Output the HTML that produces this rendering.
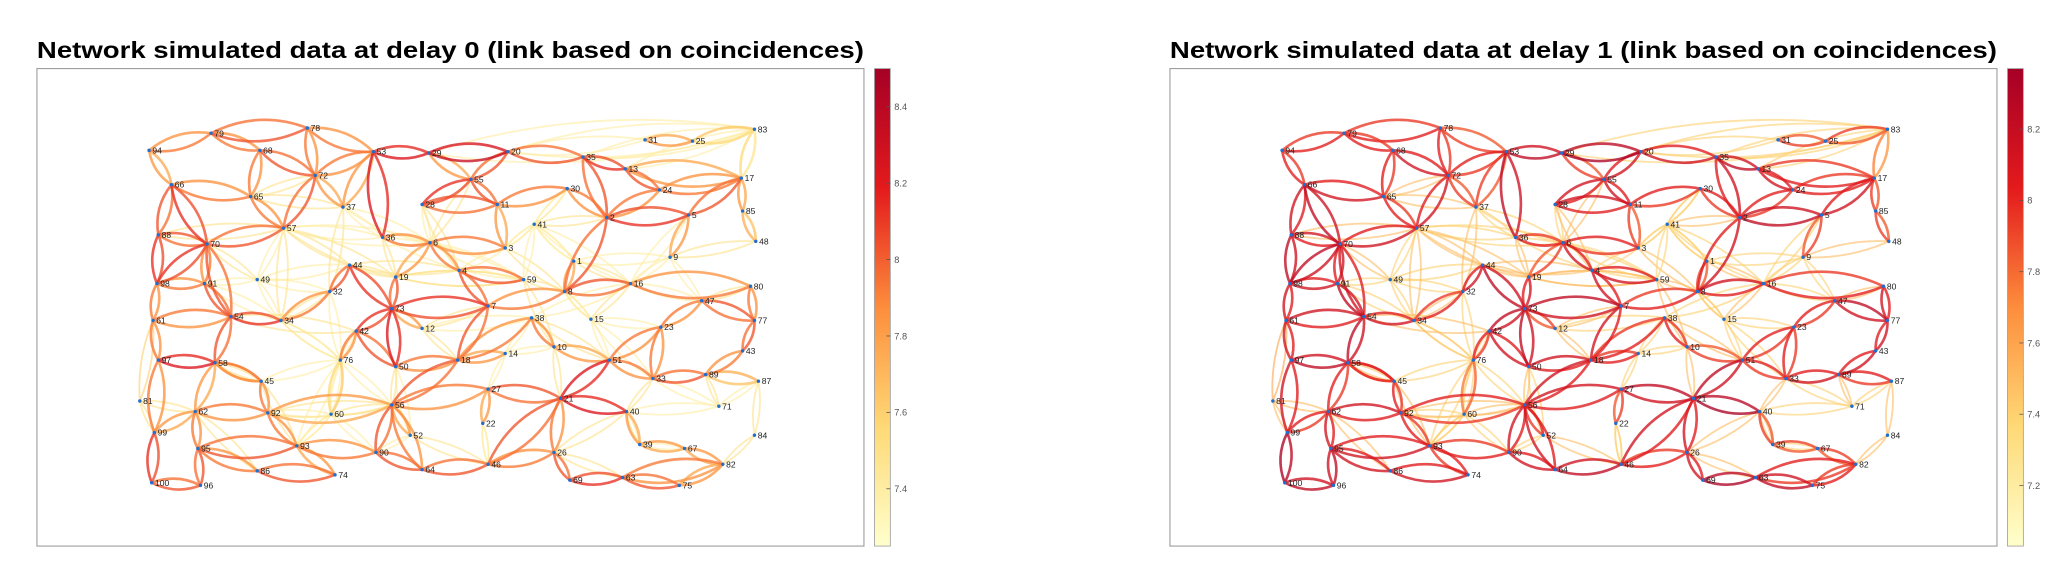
<!DOCTYPE html>
<html><head><meta charset="utf-8"><style>
html,body{margin:0;padding:0;background:#fff;}
svg{display:block;font-family:"Liberation Sans",sans-serif;}
</style></head><body>
<svg id="chart" width="2068" height="580" viewBox="0 0 2068 580">
<defs>
<linearGradient id="cmap" x1="0" y1="1" x2="0" y2="0">
<stop offset="0" stop-color="#ffffcc"/><stop offset="0.25" stop-color="#fed976"/>
<stop offset="0.5" stop-color="#fd8d3c"/><stop offset="0.75" stop-color="#e31a1c"/>
<stop offset="1" stop-color="#a50026"/></linearGradient>
</defs>
<g id="root" transform="scale(1.319)"></g>
</svg>
<script>
// node ids and positions (left-panel plot coordinates)
const nodeIds=[78,79,94,68,53,29,20,35,31,25,83,13,72,17,66,65,55,30,24,28,11,37,2,5,85,41,57,48,88,70,36,6,3,1,9,44,49,19,4,59,16,80,98,91,32,8,47,73,7,77,54,61,34,38,15,23,42,12,43,10,14,97,58,76,50,18,51,33,89,87,45,27,21,81,62,92,60,56,40,71,22,52,84,99,95,93,90,39,67,46,26,82,86,74,64,100,96,69,63,75];
const nodeX=[233,160,113,197,283,325,385,442,489,525,572,474,239,562,130,190,357,430,500,320,377,260,460,522,563,405,215,573,120,157,290,326,383,435,508,265,195,300,348,397,478,569,119,155,250,428,532,297,370,572,175,116,213,403,448,501,270,320,563,420,383,120,163,258,300,347,462,495,535,575,198,370,425,106,148,203,251,297,475,545,366,311,572,117,150,225,285,485,519,370,420,548,195,254,320,115,152,432,472,515];
const nodeY=[97,101,114,114,115,116,115,119,106,107,98,128,133,135,140,149,136,143,144,155,155,157,165,163,160,170,173,183,178,185,180,184,188,198,195,201,212,210,205,212,215,217,215,215,221,221,228,234,232,243,240,243,243,241,242,248,251,249,266,263,268,273,275,273,278,273,273,287,284,289,289,295,302,304,312,313,314,307,312,308,321,330,330,328,340,338,343,337,340,352,343,352,357,360,356,366,368,364,362,368];
// edges: source, target, weight at delay 0, weight at delay 1
const edgeSrc=[94,79,78,53,29,20,35,13,24,17,85,94,66,88,98,61,97,58,45,92,62,99,100,96,95,86,74,93,90,64,46,26,69,63,75,82,67,79,68,68,66,66,70,57,72,53,53,53,70,70,98,91,54,54,54,34,32,44,73,73,42,42,73,19,36,6,4,4,7,7,7,12,18,18,18,18,38,10,51,21,27,56,56,56,21,21,21,40,33,89,43,77,47,23,16,8,2,2,2,5,16,80,1,55,55,55,11,11,30,29,58,62,97,95,92,22,33,9,24,13,3,70,91,65,78,23,87,82,52,60,45,83,83,31];
const edgeDst=[79,78,53,29,20,35,13,24,17,85,48,66,88,98,61,97,58,45,92,62,99,100,96,95,86,74,93,90,64,46,26,69,63,75,82,67,39,68,72,65,65,70,57,72,37,37,36,72,88,98,91,54,34,58,61,32,44,73,19,42,76,50,50,6,6,4,59,7,73,8,18,73,50,14,56,38,10,51,21,27,56,92,90,64,40,26,46,39,89,43,77,47,23,51,8,2,30,35,5,17,80,77,8,28,11,20,28,3,11,55,62,95,99,93,93,27,51,5,2,17,6,54,70,57,72,33,89,63,56,76,58,17,25,25];
const w0=[7.9,8.0,7.9,8.2,8.3,8.0,8.1,8.0,7.9,7.8,7.7,7.8,8.0,8.1,7.9,7.9,8.2,7.8,7.9,7.9,7.8,8.1,8.0,8.0,7.9,8.0,7.8,7.9,8.0,8.0,7.9,8.0,8.1,8.0,7.8,7.8,7.8,7.9,8.0,7.9,7.9,8.1,8.0,8.0,7.8,7.8,8.2,7.9,8.0,8.1,7.9,8.0,8.1,8.0,7.9,7.9,8.0,8.1,8.0,8.1,7.9,8.0,8.2,7.8,7.9,7.9,8.0,8.0,8.1,7.9,8.0,7.8,7.9,7.8,8.0,7.9,7.9,7.8,8.2,8.0,7.9,7.8,8.0,7.9,8.2,7.9,8.0,7.8,8.0,7.9,8.0,8.0,7.9,7.9,8.0,8.0,7.9,8.0,8.1,8.0,7.9,7.9,7.8,8.1,8.0,8.0,8.0,7.8,7.9,7.8,7.8,7.9,7.9,8.0,7.9,7.8,7.9,7.8,7.9,7.8,7.9,8.0,7.9,7.9,7.9,7.9,7.7,7.9,7.8,7.6,7.9,7.5,7.6,7.8];
const w1=[8.0,8.0,7.9,8.2,8.3,8.1,8.2,8.1,8.0,7.9,7.9,8.0,8.1,8.2,8.1,8.1,8.2,8.0,8.0,8.1,8.0,8.3,8.2,8.2,8.1,8.1,8.0,8.0,8.1,8.2,8.0,8.1,8.3,8.2,8.0,7.9,7.9,8.0,8.1,8.0,8.1,8.2,8.1,8.1,7.9,7.9,8.2,8.0,8.1,8.2,8.1,8.2,8.1,8.2,8.1,8.0,8.1,8.2,8.1,8.2,8.0,8.1,8.2,7.9,8.0,8.1,8.1,8.1,8.2,8.0,8.1,7.9,8.1,8.0,8.1,8.0,8.0,7.9,8.2,8.2,8.1,8.0,8.1,8.1,8.3,8.1,8.1,7.9,8.1,8.1,8.1,8.2,8.0,8.0,8.1,8.1,8.0,8.1,8.2,8.1,8.0,8.1,7.9,8.1,8.1,8.1,8.1,7.9,8.0,7.9,8.0,8.1,8.1,8.1,8.0,7.9,8.0,7.9,8.0,8.0,8.0,8.1,8.1,8.0,8.0,8.0,8.0,8.0,8.0,7.8,8.0,7.7,7.9,7.9];
// weak long-range links (faint background)
const weakSrc=[49,49,49,57,57,57,36,41,41,44,32,19,59,1,9,48,80,60,60,52,52,12,14,15,15,84,84,71,83,83,83,83,31,37,37,81,81,81,22,10,3,76,45,34,65,28,3,1,49,60,52,14,15,41,49,49,57,57,36,19,12,12,76,76,50,14,10,15,38,38,8,1,16,9,41,41,28,37,65,88,91,34,34,45,60,60,92,22,40,71,71,67,39,26,87,33,47,5,2,30,55,6,4,44,42,54,58,62];
const weakDst=[70,44,32,44,36,34,19,3,1,19,76,59,8,16,16,9,47,92,56,50,46,7,38,8,51,87,82,40,13,35,29,20,20,32,6,61,62,99,46,59,41,60,76,76,37,6,8,9,91,93,90,10,23,16,57,34,19,6,59,59,38,18,56,93,56,27,21,33,51,16,15,41,15,47,30,59,4,36,72,57,34,32,76,93,90,93,56,46,26,33,89,39,40,63,71,40,16,16,41,41,6,59,3,4,76,42,45,86];
const weakW=[7.5,7.4,7.4,7.5,7.4,7.5,7.5,7.4,7.4,7.5,7.4,7.5,7.5,7.5,7.4,7.5,7.5,7.4,7.5,7.4,7.5,7.5,7.4,7.5,7.4,7.5,7.5,7.4,7.4,7.4,7.4,7.4,7.4,7.5,7.4,7.6,7.5,7.5,7.4,7.5,7.4,7.4,7.4,7.5,7.5,7.4,7.5,7.4,7.4,7.4,7.4,7.4,7.4,7.4,7.4,7.4,7.5,7.4,7.4,7.5,7.4,7.5,7.4,7.4,7.5,7.4,7.5,7.4,7.5,7.4,7.4,7.4,7.5,7.4,7.4,7.4,7.5,7.4,7.5,7.5,7.4,7.5,7.4,7.5,7.4,7.4,7.5,7.4,7.5,7.4,7.5,7.4,7.5,7.5,7.4,7.5,7.4,7.4,7.5,7.4,7.5,7.4,7.4,7.5,7.5,7.5,7.5,7.5];
// colorbar ticks
const cbTicks0=[8.4,8.2,8,7.8,7.6,7.4];
const cbTicks1=[8.2,8,7.8,7.6,7.4,7.2];

const NS="http://www.w3.org/2000/svg";
const root=document.getElementById('root');
function mk(tag,attrs,parent){const e=document.createElementNS(NS,tag);for(const k in attrs)e.setAttribute(k,attrs[k]);(parent||root).appendChild(e);return e;}
const stops=[[0,[255,255,204]],[0.25,[254,217,118]],[0.5,[253,141,60]],[0.75,[227,26,28]],[1,[165,0,38]]];
function cmap(t){t=Math.max(0,Math.min(1,t));for(let i=1;i<stops.length;i++){if(t<=stops[i][0]){const a=stops[i-1],b=stops[i];const f=(t-a[0])/(b[0]-a[0]);const c=a[1].map((v,j)=>Math.round(v+(b[1][j]-v)*f));return `rgb(${c[0]},${c[1]},${c[2]})`;}}return 'rgb(165,0,38)';}

const panels=[
 {dx:0,title:"Network simulated data at delay 0 (link based on coincidences)",w:w0,vmin:7.25,vmax:8.5,ticks:cbTicks0,cbx:663,name:'delay-0'},
 {dx:859,title:"Network simulated data at delay 1 (link based on coincidences)",w:w1,vmin:7.03,vmax:8.37,ticks:cbTicks1,cbx:1522,name:'delay-1'}
];
const boxTop=52,boxBot=414;
function nodePos(id,dx){const i=nodeIds.indexOf(id);return [nodeX[i]+dx,nodeY[i]];}
function arc(g,a,b,dx,col,sw,op,bend){
  const p=nodePos(a,dx),q=nodePos(b,dx);
  const mx=(p[0]+q[0])/2,my=(p[1]+q[1])/2,vx=q[0]-p[0],vy=q[1]-p[1];
  const cx=mx-vy*bend,cy=my+vx*bend;
  return mk('path',{d:`M${p[0]},${p[1]} Q${cx},${cy} ${q[0]},${q[1]}`,fill:'none',stroke:col,'stroke-width':sw,'stroke-opacity':op},g);
}
panels.forEach(P=>{
  const g=mk('g',{});
  
  
  const t=mk('text',{x:28+P.dx,y:44,'font-size':17.5,'font-weight':'bold',fill:'#000',textLength:627,lengthAdjust:'spacingAndGlyphs'},g);
  t.textContent=P.title;
  
  
  const box=mk('rect',{x:28+P.dx,y:boxTop,width:627,height:boxBot-boxTop,fill:'#fff',stroke:'#999','stroke-width':0.8},g);
  
  
  const tn=v=>(v-P.vmin)/(P.vmax-P.vmin);
  const eg=mk('g',{},g);
  
  
  for(let i=0;i<weakSrc.length;i++){
    [0.12,-0.12].forEach(bd=>{const e=arc(eg,weakSrc[i],weakDst[i],P.dx,cmap(tn(weakW[i])),1.4,0.6,bd);
      
      });
  }
  const order=[...edgeSrc.keys()].sort((a,b)=>P.w[a]-P.w[b]);
  order.forEach(i=>{
    [0.22,-0.22].forEach((bd,k)=>{
      const w=P.w[i]+(k?-0.05:0.03);
      const e=arc(eg,edgeSrc[i],edgeDst[i],P.dx,cmap(tn(w)),2,0.78,bd);
      
      
    });
  });
  const ng=mk('g',{},g);
  
  
  nodeIds.forEach(id=>{
    const p=nodePos(id,P.dx);
    const c=mk('circle',{cx:p[0],cy:p[1],r:1.3,fill:'#1f6fd0'},ng);
    
    
    const l=mk('text',{x:p[0]+2.5,y:p[1]+2.3,'font-size':6.5,fill:'#222'},ng);
    l.textContent=id;
    
    
  });
  const cb=mk('rect',{x:P.cbx,y:boxTop,width:12,height:boxBot-boxTop,fill:'url(#cmap)',stroke:'#999','stroke-width':0.6},g);
  
  
  P.ticks.forEach(v=>{
    const y=boxBot-(v-P.vmin)/(P.vmax-P.vmin)*(boxBot-boxTop);
    mk('line',{x1:P.cbx+9,x2:P.cbx+12,y1:y,y2:y,stroke:'#555','stroke-width':0.6},g);
    const tl=mk('text',{x:P.cbx+15,y:y+2.5,'font-size':7,fill:'#555'},g);
    tl.textContent=v;
    
    
  });
});
</script>
</body></html>
